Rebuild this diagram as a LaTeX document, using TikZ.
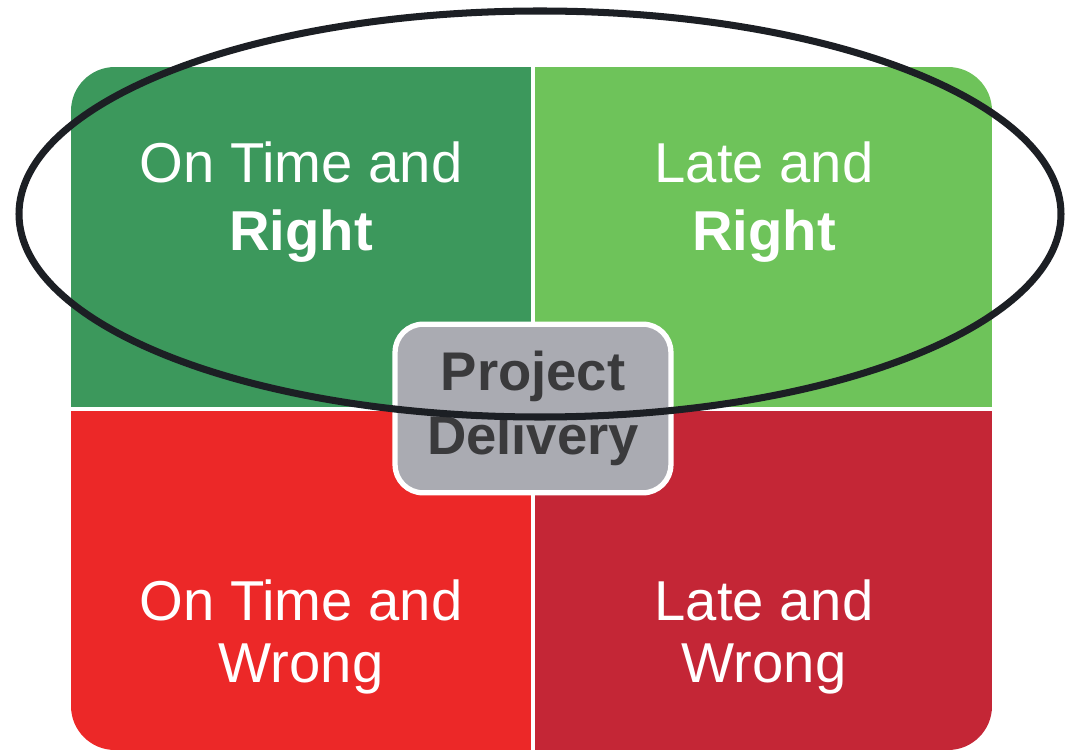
\documentclass[tikz,border=0pt]{standalone}
\usepackage{fontspec}
\setmainfont{Liberation Sans}
\definecolor{ontimegreen}{HTML}{3C985C}
\definecolor{lategreen}{HTML}{6EC35A}
\definecolor{ontimered}{HTML}{EC2828}
\definecolor{latered}{HTML}{C42636}
\definecolor{boxgrey}{HTML}{AAABB2}
\definecolor{boxtext}{HTML}{3A3A3C}
\definecolor{ringblack}{HTML}{1C1F24}

\begin{document}
\begin{tikzpicture}[x=0.02cm,y=-0.02cm,
  quadtext/.style={text=white,align=center,inner sep=0pt,font=\fontsize{32}{35}\selectfont},
  deliverybox/.style={draw=white,line width=3pt,fill=boxgrey,rounded corners=16pt,
    minimum width=157pt,minimum height=96pt,align=center,text=boxtext,
    font=\fontsize{31}{36.5}\selectfont\bfseries},
  ring/.style={draw=ringblack,line width=4pt}]
\useasboundingbox (0,0) rectangle (1073,753);
\def\xl{71}
\def\xr{992}
\def\yt{67}
\def\yb{750}
\def\xm{533}
\def\ym{409.5}
\begin{scope}
\clip[rounded corners=25pt] (\xl,\yt) rectangle (\xr,\yb);
\fill[ontimegreen] (\xl,\yt) rectangle (\xm-1.8,\ym-2);
\fill[lategreen] (\xm+1.8,\yt) rectangle (\xr,\ym-2);
\fill[ontimered] (\xl,\ym+2) rectangle (\xm-1.8,\yb);
\fill[latered] (\xm+1.8,\ym+2) rectangle (\xr,\yb);
\end{scope}
\node[quadtext] (ontimeright) at (301,202) {On Time and\\[4pt]\textbf{Right}};
\node[quadtext] (lateright) at (764,202) {Late and\\[4pt]\textbf{Right}};
\node[quadtext] (ontimewrong) at (301,637) {On Time and\\Wrong};
\node[quadtext] (latewrong) at (764,637) {Late and\\Wrong};
\node[deliverybox] (delivery) at (533,408.5) {Project\\Delivery};
\draw[ring] (540,214) ellipse [x radius=521, y radius=203];
\end{tikzpicture}
\end{document}
